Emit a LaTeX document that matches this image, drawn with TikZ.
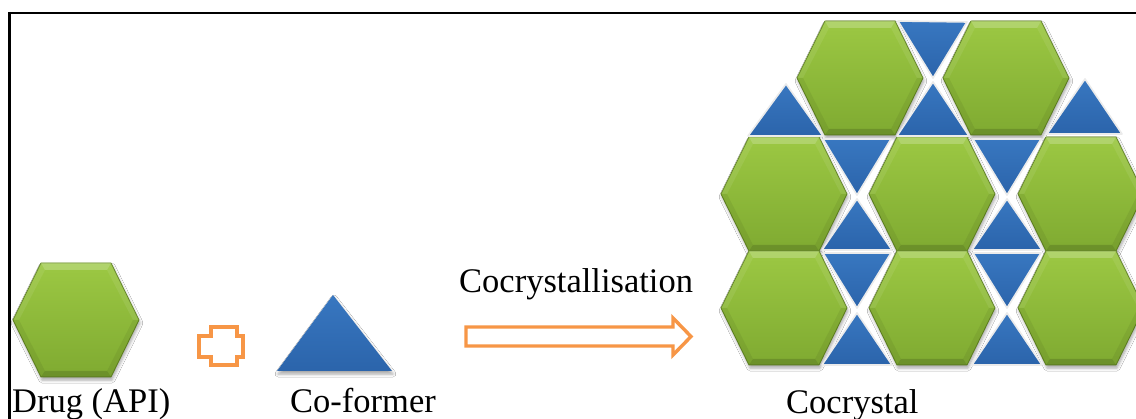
\documentclass[tikz,border=0pt]{standalone}
\usepackage{fontspec}
\setmainfont{Liberation Serif}
\usetikzlibrary{shadows.blur}

\definecolor{hexlight}{HTML}{9CC843}
\definecolor{hexmid}{HTML}{8DBA39}
\definecolor{hexdark}{HTML}{7FAA31}
\definecolor{hexedge}{HTML}{5F8220}
\definecolor{trilight}{HTML}{3877C0}
\definecolor{tridark}{HTML}{2B64AB}
\definecolor{plusorange}{HTML}{F79646}

\tikzset{
  hexbody/.style={top color=hexlight, middle color=hexmid, bottom color=hexdark,
    draw=hexedge, line width=0.8pt, line join=round,
    blur shadow={shadow xshift=1pt, shadow yshift=-3pt, shadow blur radius=3pt, shadow opacity=35}},
  hexa/.pic={
    \path[hexbody] (-63,0) -- (-35,-57) -- (35,-57) -- (63,0) -- (35,57) -- (-35,57) -- cycle;
    % bevel: light upper rim, dark lower rim
    \fill[white, opacity=0.22] (-35,-57) -- (35,-57) -- (31,-50) -- (-31,-50) -- cycle;
    \fill[white, opacity=0.08] (-63,0) -- (-35,-57) -- (-31,-50) -- (-57,0) -- cycle;
    \fill[white, opacity=0.08] (63,0) -- (35,-57) -- (31,-50) -- (57,0) -- cycle;
    \fill[black, opacity=0.15] (-35,57) -- (35,57) -- (31,51) -- (-31,51) -- cycle;
    \fill[black, opacity=0.06] (-63,0) -- (-35,57) -- (-31,51) -- (-57,0) -- cycle;
    \fill[black, opacity=0.06] (63,0) -- (35,57) -- (31,51) -- (57,0) -- cycle;
  },
  tribody/.style={top color=trilight, bottom color=tridark, draw=white!92!black,
    line width=1.6pt, line join=round},
  solotri/.style={top color=trilight, bottom color=tridark, draw=none,
    blur shadow={shadow xshift=1pt, shadow yshift=-3pt, shadow blur radius=3pt, shadow opacity=35}},
  outline/.style={draw=plusorange, fill=white, line width=3.6pt, line join=miter},
  lbl/.style={font=\fontsize{34.5}{40}\selectfont, text=black, inner sep=0pt, anchor=base west},
  frameline/.style={draw=black, line width=2.2pt},
}

\begin{document}
\begin{tikzpicture}[x=1pt,y=-1pt]
\useasboundingbox (0,0) rectangle (1136,419);
\fill[white] (0,0) rectangle (1136,419);

% frame lines (top and left)
\draw[frameline] (9.5,13) -- (1136,13);
\draw[frameline] (9.5,12) -- (9.5,419);

% drug molecule
\pic at (76,320) {hexa};

% plus sign
\path[outline] (211,327) -- (237,327) -- (237,336) -- (243,336) -- (243,357)
  -- (237,357) -- (237,365) -- (211,365) -- (211,357) -- (199,357)
  -- (199,336) -- (211,336) -- cycle;

% co-former
\path[solotri] (333,295) -- (392,371) -- (277,371) -- cycle;

% process arrow
\path[outline, line width=3.4pt] (466,327) -- (673,327) -- (673,318) -- (691,336.5)
  -- (673,355) -- (673,346) -- (466,346) -- cycle;

% cocrystal: hexagon lattice
\foreach \cx/\cy in {860/78, 1006/78,
                     784/194, 932/194, 1081/194,
                     784/308, 932/308, 1081/308}
  \pic at (\cx,\cy) {hexa};

% cocrystal: triangles of the top row
\path[tribody] (898,21) -- (967,22) -- (933,78) -- cycle;
\path[tribody] (933,82) -- (969,136) -- (897,136) -- cycle;
\path[tribody] (786,84) -- (823,136) -- (748,136) -- cycle;
\path[tribody] (1085,79) -- (1122,134) -- (1047,134) -- cycle;

% cocrystal: hourglass triangles between the columns
\foreach \tx in {857,1007} {
  \path[tribody] (\tx-34,139) -- (\tx+34,139) -- (\tx,195) -- cycle;
  \path[tribody] (\tx,199) -- (\tx+35,250) -- (\tx-35,250) -- cycle;
  \path[tribody] (\tx-34,253) -- (\tx+34,253) -- (\tx,308) -- cycle;
  \path[tribody] (\tx,313) -- (\tx+35,365) -- (\tx-35,365) -- cycle;
}

% labels
\node[lbl] (drug) at (12,413) {Drug (API)};
\node[lbl] (coformer) at (290,413) {Co-former};
\node[lbl] (process) at (459,293) {Cocrystallisation};
\node[lbl] (product) at (786,414) {Cocrystal};
\end{tikzpicture}
\end{document}
